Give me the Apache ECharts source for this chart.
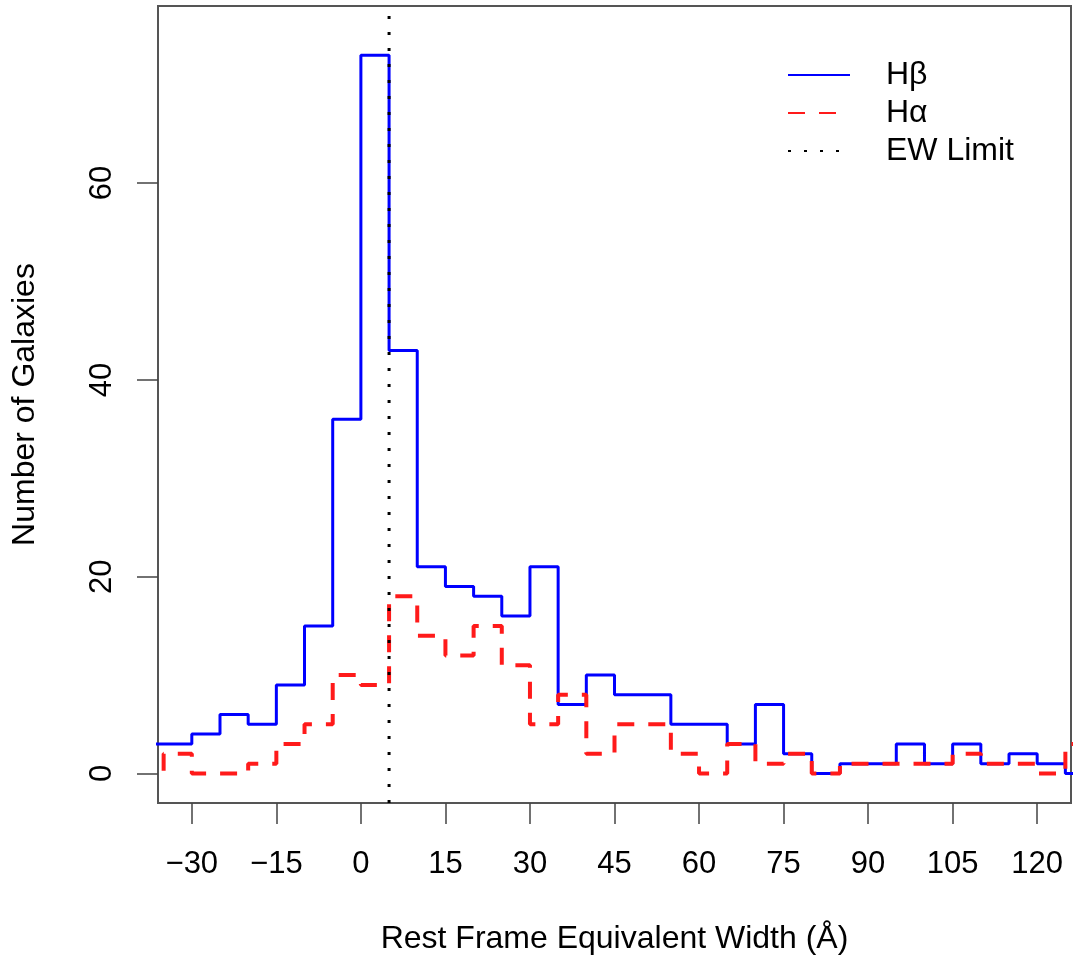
<!DOCTYPE html>
<html>
<head>
<meta charset="utf-8">
<script src="https://cdn.jsdelivr.net/npm/echarts@6/dist/echarts.min.js"></script>
<style>
html,body{margin:0;padding:0;background:#fff;}
#chart{width:1073px;height:962px;}
</style>
</head>
<body>
<div id="chart"></div>
<script>
// Histogram bin left edges (width 5 Å)
const binStarts = [-40,-35,-30,-25,-20,-15,-10,-5,0,5,10,15,20,25,30,35,40,45,50,55,60,65,70,75,80,85,90,95,100,105,110,115,120,125];
const lastEdge = 130;
// Counts per bin
const hbetaCounts = [3,3,4,6,5,9,15,36,73,43,21,19,18,16,21,7,10,8,8,5,5,3,7,2,0,1,1,3,1,3,1,2,1,0];
const halphaCounts = [0,2,0,0,1,3,5,10,9,18,14,12,15,11,5,8,2,5,5,2,0,3,1,2,0,1,1,1,1,2,1,1,0,3];
// EW limit
const ewLimit = 5;
// Tick labels
const xTicks = [-30,-15,0,15,30,45,60,75,90,105,120];
const yTicks = [0,20,40,60];
const xRange = [-36, 126];
const yRange = [-3, 78];

function stepData(counts){
  const d = binStarts.map((x,i)=>[x, counts[i]]);
  d.push([lastEdge, counts[counts.length-1]]);
  return d;
}

const FONT = "'Liberation Sans', Arial, Helvetica, sans-serif";
const chart = echarts.init(document.getElementById('chart'), null, {renderer:'canvas'});
const fmt = v => v < 0 ? '\u2212' + Math.abs(v) : String(v);

chart.setOption({
  animation: false,
  backgroundColor: '#fff',
  textStyle: {fontFamily: FONT},
  grid: {left:158, right:2, top:6, bottom:159, show:true, borderColor:'#555', borderWidth:2, backgroundColor:'transparent'},
  legend: {
    left: 782, top: 54, orient: 'vertical',
    itemWidth: 62, itemHeight: 14, itemGap: 6,
    itemStyle: {opacity: 0},
    textStyle: {fontFamily: FONT, fontSize: 32, lineHeight: 32, color:'#000', padding:[0,0,0,31]},
    data: ['H\u03b2','H\u03b1','EW Limit']
  },
  xAxis: {
    type:'value', min:xRange[0], max:xRange[1],
    name:'Rest Frame Equivalent Width (\u00c5)', nameLocation:'middle', nameGap:120,
    nameTextStyle:{fontFamily:FONT, fontSize:32, color:'#000'},
    axisLine:{show:false, onZero:false},
    splitLine:{show:false},
    axisTick:{show:true, inside:false, length:21, customValues:xTicks, lineStyle:{color:'#444', width:1.5}},
    axisLabel:{show:true, margin:46, fontSize:31, color:'#000', fontFamily:FONT, customValues:xTicks, formatter:fmt}
  },
  yAxis: {
    type:'value', min:yRange[0], max:yRange[1],
    name:'Number of Galaxies', nameLocation:'middle', nameGap:117,
    nameTextStyle:{fontFamily:FONT, fontSize:32, color:'#000'},
    axisLine:{show:false, onZero:false},
    splitLine:{show:false},
    axisTick:{show:true, inside:false, length:21, customValues:yTicks, lineStyle:{color:'#444', width:1.5}},
    axisLabel:{show:true, margin:40, rotate:90, fontSize:31, color:'#000', fontFamily:FONT, customValues:yTicks, formatter:fmt}
  },
  series: [
    {name:'H\u03b2', type:'line', step:'end', data: stepData(hbetaCounts), symbol:'none', showSymbol:false,
     lineStyle:{color:'#0000ff', width:3}, itemStyle:{color:'#0000ff'}, clip:true, z:2},
    {name:'H\u03b1', type:'line', step:'end', data: stepData(halphaCounts), symbol:'none', showSymbol:false,
     lineStyle:{color:'#ff1a1a', width:4, type:[17,14]}, itemStyle:{color:'#ff1a1a'}, clip:true, z:3},
    {name:'EW Limit', type:'line', data: [[ewLimit, yRange[0]],[ewLimit, yRange[1]]], symbol:'none', showSymbol:false,
     lineStyle:{color:'#000', width:3, type:[3,13]}, itemStyle:{color:'#000'}, clip:true, z:4}
  ]
});
</script>
</body>
</html>
